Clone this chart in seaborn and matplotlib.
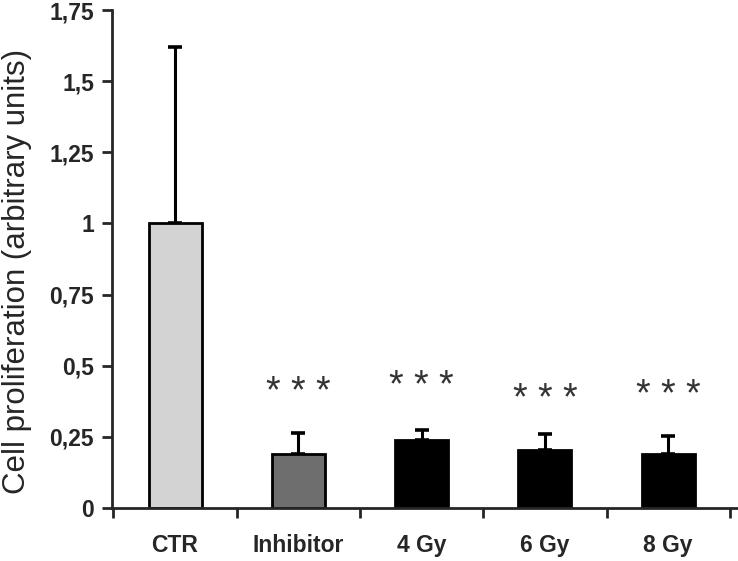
import numpy as np
import pandas as pd
import matplotlib
matplotlib.use("Agg")
import matplotlib.pyplot as plt
import seaborn as sns

# Data
groups = ["CTR", "Inhibitor", "4 Gy", "6 Gy", "8 Gy"]
means = [1.0, 0.19, 0.24, 0.205, 0.19]
errors = [0.62, 0.075, 0.035, 0.055, 0.062]
star_y = [None, 0.405, 0.425, 0.38, 0.395]
bar_colors = ["#d3d3d3", "#6e6e6e", "#000000", "#000000", "#000000"]
yticks = [0, 0.25, 0.5, 0.75, 1, 1.25, 1.5, 1.75]
ytick_labels = ["0", "0,25", "0,5", "0,75", "1", "1,25", "1,5", "1,75"]

sns.set_style("ticks")
plt.rcParams["font.family"] = ["Liberation Sans", "DejaVu Sans"]

df = pd.DataFrame({"group": groups, "value": means})

fig = plt.figure(figsize=(7.38, 5.61), dpi=100)
ax = fig.add_axes([0.152, 0.0945, 0.847, 0.8875])

sns.barplot(data=df, x="group", y="value", hue="group", palette=bar_colors,
            width=0.43, edgecolor="black", linewidth=2, legend=False, ax=ax,
            zorder=2)

# upper-only error bars
x = np.arange(len(groups))
ax.errorbar(x, means, yerr=[np.zeros(len(errors)), errors], fmt="none",
            ecolor="black", elinewidth=2.2, capsize=5, capthick=2.6, zorder=1)

# significance stars
for xi, sy in zip(x, star_y):
    if sy is not None:
        ax.text(xi, sy, "* * *", ha="center", va="center", fontsize=27,
                color="#333333")

ax.set_xlim(-0.51, 4.56)
ax.set_ylim(0, 1.75)
ax.set_yticks(yticks)
ax.set_yticklabels(ytick_labels, fontsize=16.5, fontweight="bold")
ax.set_xticks(x)
ax.set_xticklabels(groups, fontsize=16.5, fontweight="bold")
ax.tick_params(axis="x", which="major", length=0, pad=19)
ax.set_xticks(np.arange(-0.5, 5, 1), minor=True)
ax.tick_params(axis="x", which="minor", length=7, width=2, direction="out")
ax.tick_params(axis="y", length=7, width=2, direction="out", pad=6)

ax.set_xlabel("")
ax.set_ylabel("Cell proliferation (arbitrary units)", fontsize=22.5)
ax.yaxis.set_label_coords(-0.128, 0.475)

sns.despine(ax=ax)
for side in ["left", "bottom"]:
    ax.spines[side].set_linewidth(2)
ax.spines["left"].set_zorder(3)

fig.savefig("out.png", dpi=100)
